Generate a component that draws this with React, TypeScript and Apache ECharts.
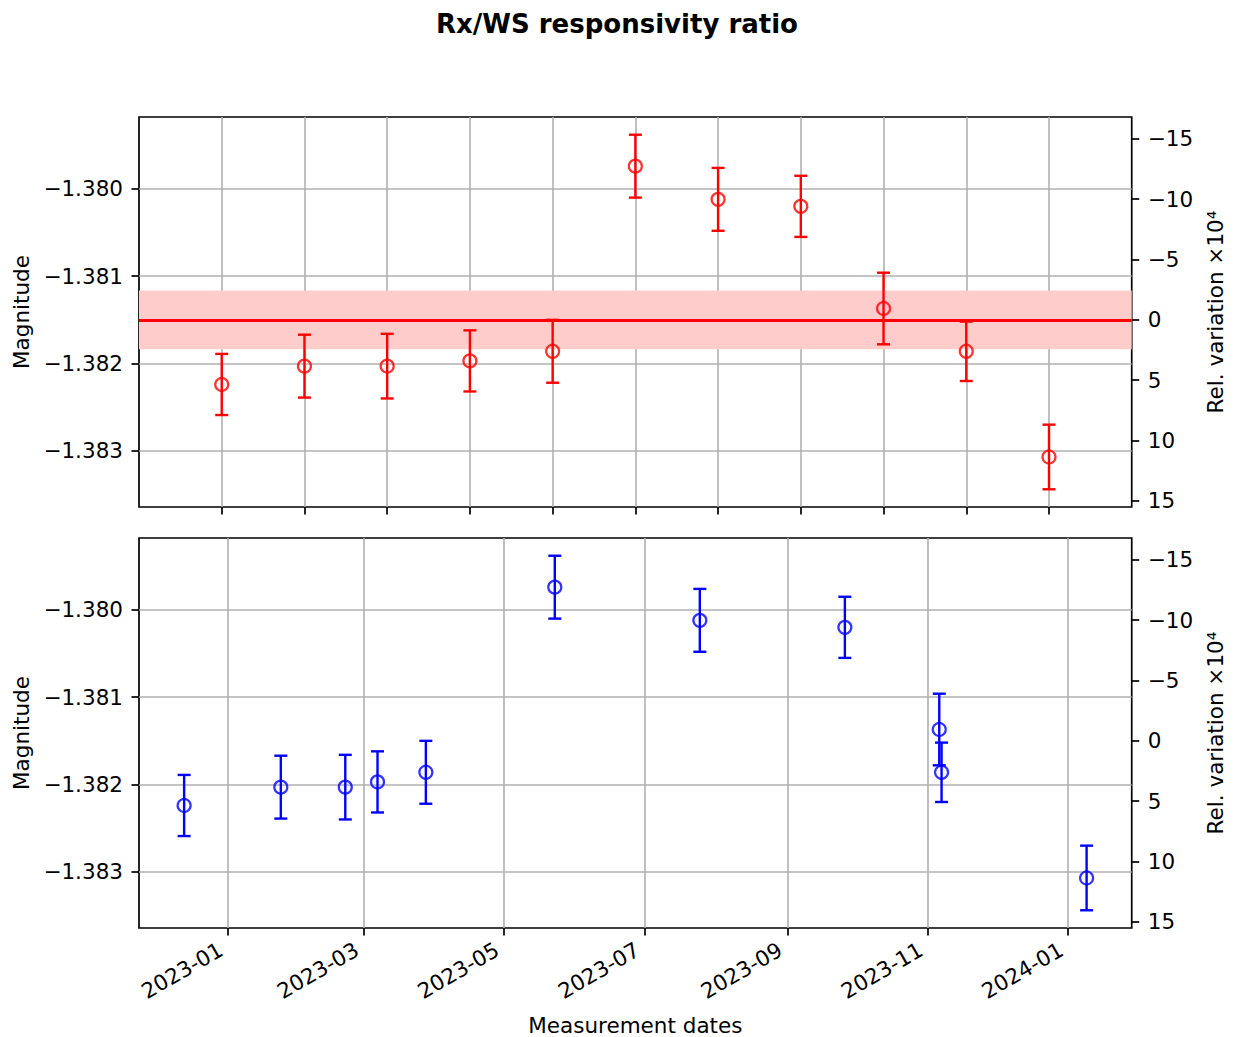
import React, { useEffect, useRef } from "react";
import * as echarts from "echarts";

// ---- data ----
const measurementDates = [
  "2022-12-13", "2023-01-24", "2023-02-21", "2023-03-07", "2023-03-28",
  "2023-05-23", "2023-07-25", "2023-09-26", "2023-11-06", "2023-11-07", "2024-01-09",
];
const magnitudes = [
  -1.38224, -1.38203, -1.38203, -1.38197, -1.38186,
  -1.37974, -1.38012, -1.3802, -1.38137, -1.38186, -1.38307,
];
const magErrors = [
  0.00035, 0.00036, 0.00037, 0.00035, 0.00036,
  0.00036, 0.00036, 0.00035, 0.00041, 0.00034, 0.00037,
];
const meanMagnitude = -1.3815;
const bandHalfWidth = 0.000336;

const magTicks = [-1.383, -1.382, -1.381, -1.38];
const relTicks = [-15, -10, -5, 0, 5, 10, 15];
const indexTicks = [0, 1, 2, 3, 4, 5, 6, 7, 8, 9, 10];
const dateTicks = [
  "2023-01-01", "2023-03-01", "2023-05-01", "2023-07-01",
  "2023-09-01", "2023-11-01", "2024-01-01",
];

const FONT = "DejaVu Sans";
const TICK_FS = 21.5;
const GRID_COLOR = "#b0b0b0";

function parseDate(s: string): number {
  const [y, m, d] = s.split("-").map(Number);
  return new Date(y, m - 1, d).getTime();
}
function fmtMinus(v: number, digits: number): string {
  const a = Math.abs(v).toFixed(digits);
  return v < 0 ? "\u2212" + a : a;
}

export default function App() {
  const ref = useRef<HTMLDivElement>(null);

  useEffect(() => {
    if (!ref.current) return;
    const chart = echarts.init(ref.current, undefined, { renderer: "svg" });

    const lo = Math.min(...magnitudes.map((m, i) => m - magErrors[i]));
    const hi = Math.max(...magnitudes.map((m, i) => m + magErrors[i]));
    const pad = (hi - lo) * 0.05;
    const yMin = lo - pad;
    const yMax = hi + pad;
    const relAtMax = ((yMax - meanMagnitude) / meanMagnitude) * 1e4;
    const relAtMin = ((yMin - meanMagnitude) / meanMagnitude) * 1e4;

    const ts = measurementDates.map(parseDate);
    const tRange = ts[ts.length - 1] - ts[0];
    const tMin = ts[0] - tRange * 0.05;
    const tMax = ts[ts.length - 1] + tRange * 0.05;
    const dateTickValues = dateTicks.map(parseDate);

    const errRender = (color: string) => (params: any, api: any) => {
      const x = api.value(0);
      const y = api.value(1);
      const e = api.value(2);
      const top = api.coord([x, y + e]);
      const bot = api.coord([x, y - e]);
      const cap = 6.5;
      const style = { stroke: color, lineWidth: 2.4, fill: null };
      return {
        type: "group",
        children: [
          { type: "line", shape: { x1: top[0], y1: top[1], x2: bot[0], y2: bot[1] }, style },
          { type: "line", shape: { x1: top[0] - cap, y1: top[1], x2: top[0] + cap, y2: top[1] }, style },
          { type: "line", shape: { x1: bot[0] - cap, y1: bot[1], x2: bot[0] + cap, y2: bot[1] }, style },
        ],
      };
    };

    const tickLabel = { fontFamily: FONT, fontSize: TICK_FS, color: "#000" };
    const noLine = { show: false, onZero: false };

    const gridCommon = {
      left: 139,
      width: 995,
      height: 390,
      show: true,
      borderColor: "#000",
      borderWidth: 1.7,
      backgroundColor: "transparent",
      containLabel: false,
    };

    const magAxis = (gridIndex: number) => ({
      type: "value",
      gridIndex,
      position: "left",
      min: yMin,
      max: yMax,
      name: "Magnitude",
      nameLocation: "middle",
      nameRotate: 90,
      nameGap: 106,
      nameTextStyle: { fontFamily: FONT, fontSize: TICK_FS, color: "#000" },
      axisLine: noLine,
      axisTick: { show: true, length: 7.5, customValues: magTicks, lineStyle: { color: "#000", width: 1.7 } },
      axisLabel: {
        ...tickLabel,
        margin: 16,
        customValues: magTicks,
        formatter: (v: number) => fmtMinus(v, 3),
      },
      splitLine: { show: true, lineStyle: { color: GRID_COLOR, width: 1.6 } },
    });

    const relAxis = (gridIndex: number) => ({
      type: "value",
      gridIndex,
      position: "right",
      inverse: true,
      min: relAtMax,
      max: relAtMin,
      name: "Rel. variation \u00d710\u2074",
      nameLocation: "middle",
      nameRotate: 90,
      nameGap: 70,
      nameTextStyle: { fontFamily: FONT, fontSize: TICK_FS, color: "#000" },
      axisLine: noLine,
      axisTick: { show: true, length: 7.5, customValues: relTicks, lineStyle: { color: "#000", width: 1.7 } },
      axisLabel: {
        ...tickLabel,
        margin: 16,
        customValues: relTicks,
        formatter: (v: number) => fmtMinus(v, 0),
      },
      splitLine: { show: false },
    });

    const option: any = {
      animation: false,
      backgroundColor: "#fff",
      title: {
        text: "Rx/WS responsivity ratio",
        left: "center",
        top: 6,
        textStyle: { fontFamily: FONT, fontSize: 26, fontWeight: "bold", color: "#000" },
      },
      grid: [
        { ...gridCommon, top: 117 },
        { ...gridCommon, top: 538 },
      ],
      xAxis: [
        {
          type: "value",
          gridIndex: 0,
          min: -1,
          max: 11,
          axisLine: noLine,
          axisTick: { show: true, length: 7.5, customValues: indexTicks, lineStyle: { color: "#000", width: 1.7 } },
          axisLabel: { show: false, customValues: indexTicks },
          splitLine: { show: true, lineStyle: { color: GRID_COLOR, width: 1.6 } },
        },
        {
          type: "value",
          gridIndex: 1,
          min: tMin,
          max: tMax,
          name: "Measurement dates",
          nameLocation: "middle",
          nameGap: 86,
          nameTextStyle: { fontFamily: FONT, fontSize: TICK_FS, color: "#000" },
          axisLine: noLine,
          axisTick: {
            show: true,
            length: 7.5,
            customValues: dateTickValues,
            lineStyle: { color: "#000", width: 1.7 },
          },
          axisLabel: {
            ...tickLabel,
            rotate: 30,
            margin: 16,
            padding: [0, 8, 0, 0],
            customValues: dateTickValues,
            formatter: (v: number) => {
              const d = new Date(v);
              return d.getFullYear() + "-" + String(d.getMonth() + 1).padStart(2, "0");
            },
          },
          splitLine: { show: true, lineStyle: { color: GRID_COLOR, width: 1.6 } },
        },
      ],
      yAxis: [magAxis(0), relAxis(0), magAxis(1), relAxis(1)],
      series: [
        {
          type: "line",
          xAxisIndex: 0,
          yAxisIndex: 0,
          data: [],
          z: -1,
          silent: true,
          markArea: {
            silent: true,
            itemStyle: { color: "#ffcccc" },
            data: [[{ yAxis: meanMagnitude + bandHalfWidth }, { yAxis: meanMagnitude - bandHalfWidth }]],
          },
        },
        {
          type: "custom",
          xAxisIndex: 0,
          yAxisIndex: 0,
          z: 3,
          renderItem: errRender("#ff0000"),
          encode: { x: 0, y: 1 },
          data: magnitudes.map((m, i) => [i, m, magErrors[i]]),
        },
        {
          type: "scatter",
          xAxisIndex: 0,
          yAxisIndex: 0,
          z: 4,
          symbol: "circle",
          symbolSize: 13,
          itemStyle: { color: "rgba(0,0,0,0)", borderColor: "#ff0000", borderWidth: 2.2 },
          data: magnitudes.map((m, i) => [i, m]),
          markLine: {
            silent: true,
            symbol: "none",
            precision: 6,
            z: 2,
            label: { show: false },
            lineStyle: { color: "#ff0000", width: 3.2, type: "solid" },
            data: [{ yAxis: meanMagnitude }],
          },
        },
        {
          type: "custom",
          xAxisIndex: 1,
          yAxisIndex: 2,
          z: 3,
          renderItem: errRender("#0000ff"),
          encode: { x: 0, y: 1 },
          data: magnitudes.map((m, i) => [ts[i], m, magErrors[i]]),
        },
        {
          type: "scatter",
          xAxisIndex: 1,
          yAxisIndex: 2,
          z: 4,
          symbol: "circle",
          symbolSize: 13,
          itemStyle: { color: "rgba(0,0,0,0)", borderColor: "#0000ff", borderWidth: 2.2 },
          data: magnitudes.map((m, i) => [ts[i], m]),
        },
      ],
    };

    chart.setOption(option);
    return () => chart.dispose();
  }, []);

  return (
    <div
      ref={ref}
      style={{ position: "absolute", left: 0, top: 0, width: 1234, height: 1037 }}
    />
  );
}
